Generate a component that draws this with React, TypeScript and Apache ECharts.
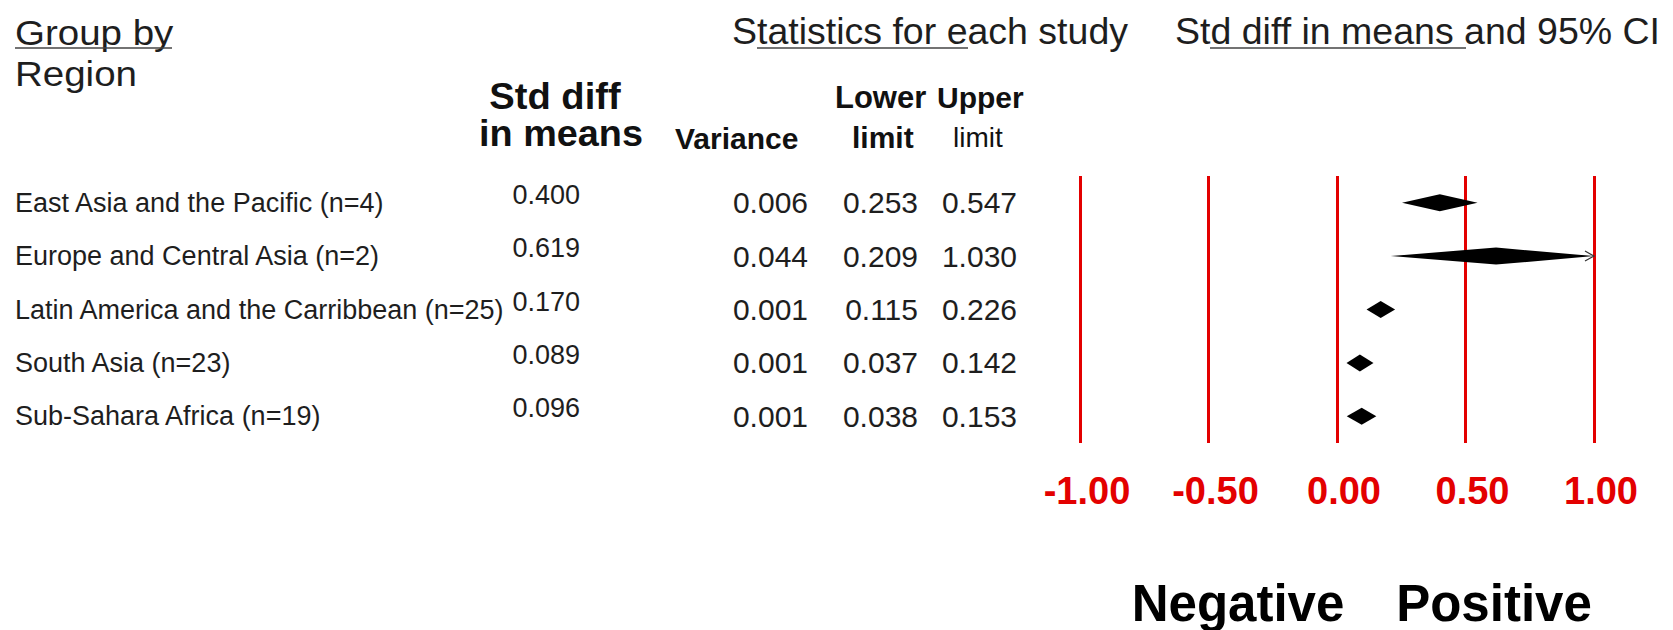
import { useEffect, useRef } from "react";
import * as echarts from "echarts";

const regions = [
  "East Asia and the Pacific (n=4)",
  "Europe and Central Asia (n=2)",
  "Latin America and the Carribbean (n=25)",
  "South Asia (n=23)",
  "Sub-Sahara Africa (n=19)",
];
const stdDiff = [0.4, 0.619, 0.17, 0.089, 0.096];
const variance = [0.006, 0.044, 0.001, 0.001, 0.001];
const lower = [0.253, 0.209, 0.115, 0.037, 0.038];
const upper = [0.547, 1.03, 0.226, 0.142, 0.153];
const xTicks = [-1, -0.5, 0, 0.5, 1];

const FONT = '"Liberation Sans", Arial, Helvetica, sans-serif';
const RED = "#e30000";
const TXT = "#1e1e1e";

function txt(text: string, x: number, y: number, size: number, opts: any = {}) {
  return {
    type: "text",
    x,
    y,
    scaleX: opts.scaleX ?? 1,
    style: {
      text,
      fontSize: size,
      fontFamily: FONT,
      fontWeight: opts.bold ? "bold" : "normal",
      fill: opts.color ?? TXT,
      align: opts.align ?? "left",
      textAlign: opts.align ?? "left",
      verticalAlign: "middle",
      textVerticalAlign: "middle",
    },
  };
}

function uline(x1: number, x2: number, y: number) {
  return {
    type: "line",
    shape: { x1, y1: y, x2, y2: y },
    style: { stroke: "#444", lineWidth: 1.5 },
  };
}

export default function App() {
  const ref = useRef<HTMLDivElement>(null);
  useEffect(() => {
    document.body.style.margin = "0";
    document.body.style.overflow = "hidden";
    const chart = echarts.init(ref.current!, null, { renderer: "svg" });
    const xMin = xTicks[0];
    const xMax = xTicks[xTicks.length - 1];
    const option: any = {
      animation: false,
      backgroundColor: "#fff",
      grid: { left: 1080, width: 514, top: 176, height: 267 },
      xAxis: {
        type: "value",
        min: xMin,
        max: xMax,
        interval: xTicks[1] - xTicks[0],
        axisLine: { show: false },
        axisTick: { show: false },
        splitLine: { show: true, lineStyle: { color: RED, width: 3 } },
        axisLabel: {
          color: RED,
          fontWeight: "bold",
          fontSize: 38,
          fontFamily: FONT,
          margin: 29,
          padding: [0, 0, 0, 14],
          formatter: (v: number) => v.toFixed(2),
        },
      },
      yAxis: {
        type: "category",
        data: regions,
        inverse: true,
        axisLine: { show: false },
        axisTick: { show: false },
        splitLine: { show: false },
        axisLabel: {
          align: "left",
          margin: 1065,
          fontSize: 27,
          fontFamily: FONT,
          color: TXT,
        },
      },
      series: [
        {
          type: "custom",
          name: "diamonds",
          clip: false,
          data: regions.map((_, i) => [lower[i], stdDiff[i], upper[i], i]),
          encode: { x: [0, 1, 2], y: 3 },
          renderItem: (params: any, api: any) => {
            const i = api.value(3);
            const lo = api.value(0);
            const m = api.value(1);
            const hi = api.value(2);
            const pLo = api.coord([lo, i]);
            const pM = api.coord([m, i]);
            const pHi = api.coord([Math.min(hi, xMax), i]);
            const y = pM[1];
            const h = 8.5;
            const children: any[] = [
              {
                type: "polygon",
                shape: {
                  points: [
                    [pLo[0], y],
                    [pM[0], y - h],
                    [pHi[0], y],
                    [pM[0], y + h],
                  ],
                },
                style: { fill: "#000" },
              },
            ];
            if (hi > xMax) {
              children.push({
                type: "polyline",
                shape: {
                  points: [
                    [pHi[0] - 9, y - 5],
                    [pHi[0], y],
                    [pHi[0] - 9, y + 5],
                  ],
                },
                style: { stroke: "#333", lineWidth: 1.2, fill: "none" },
              });
            }
            return { type: "group", children };
          },
          z: 5,
        },
        {
          type: "custom",
          name: "table",
          clip: false,
          data: regions.map((_, i) => [0, i]),
          encode: { x: 0, y: 1 },
          renderItem: (params: any, api: any) => {
            const i = params.dataIndex;
            const y = api.coord([0, api.value(1)])[1];
            const mk = (text: string, x: number, yy: number, size: number) => ({
              type: "text",
              x,
              y: yy,
              style: {
                text,
                fontSize: size,
                fontFamily: FONT,
                fill: TXT,
                align: "right",
                textAlign: "right",
                verticalAlign: "middle",
                textVerticalAlign: "middle",
              },
            });
            return {
              type: "group",
              children: [
                mk(stdDiff[i].toFixed(3), 580, y - 8, 27),
                mk(variance[i].toFixed(3), 808, y, 30),
                mk(lower[i].toFixed(3), 918, y, 30),
                mk(upper[i].toFixed(3), 1017, y, 30),
              ],
            };
          },
        },
      ],
      graphic: [
        txt("Group by", 15, 33, 35, { scaleX: 1.1 }),
        uline(15, 172, 48),
        txt("Region", 15, 74, 35, { scaleX: 1.1 }),
        txt("Statistics for each study", 732, 31, 37.5),
        uline(757, 968, 48),
        txt("Std diff in means and 95% CI", 1175, 31, 37.5),
        uline(1210, 1466, 48),
        txt("Std diff", 555, 96, 36, { bold: true, align: "center", scaleX: 1.06, color: "#111" }),
        txt("in means", 561, 134, 36, { bold: true, align: "center", scaleX: 1.05, color: "#111" }),
        txt("Variance", 675, 138, 30, { bold: true, color: "#111" }),
        txt("Lower", 835, 97, 31, { bold: true, color: "#111" }),
        txt("Upper", 937, 97, 30, { bold: true, color: "#111" }),
        txt("limit", 852, 137, 30, { bold: true, color: "#111" }),
        txt("limit", 953, 137, 28, { color: "#111" }),
        txt("Negative", 1238, 603, 51, { bold: true, align: "center", color: "#000" }),
        txt("Positive", 1494, 603, 51, { bold: true, align: "center", color: "#000" }),
      ],
    };
    chart.setOption(option);
    return () => chart.dispose();
  }, []);
  return <div ref={ref} style={{ width: 1673, height: 630 }} />;
}
